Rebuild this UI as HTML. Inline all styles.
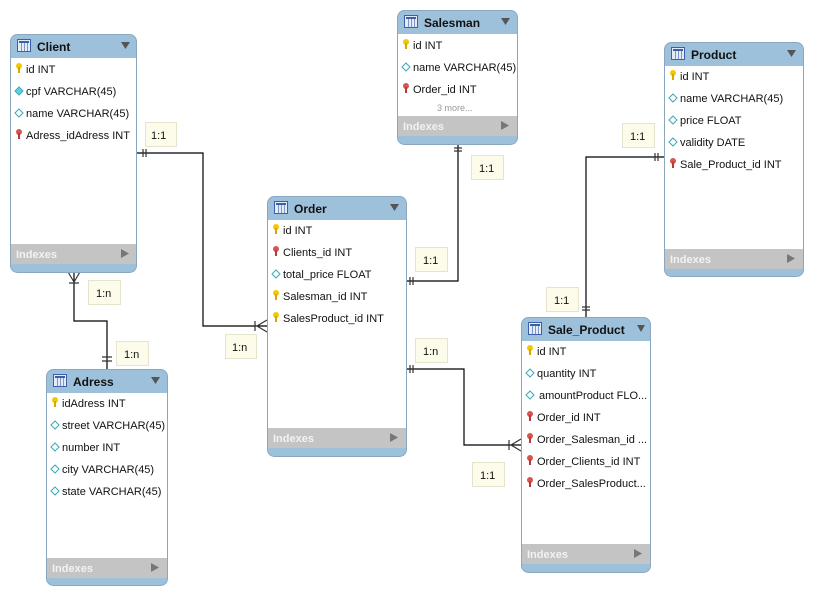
<!DOCTYPE html>
<html><head><meta charset="utf-8"><style>
html,body{margin:0;padding:0;background:#fff;width:813px;height:597px;overflow:hidden}
svg text{font-family:"Liberation Sans","DejaVu Sans",sans-serif}
.t{font-size:12px;font-weight:bold;fill:#111}
.r{font-size:11px;fill:#111}
.ix{font-size:11px;font-weight:bold;fill:#f2f2f2}
.lb{font-size:11px;fill:#111}
</style></head><body>
<svg width="813" height="597" viewBox="0 0 813 597" xmlns="http://www.w3.org/2000/svg">
<defs>
<g id="ico"><rect x="0.5" y="0.5" width="13" height="12" fill="#e4ecf8" stroke="#3b5fa8"/><rect x="2" y="2" width="10" height="2" fill="#3b5fa8"/><line x1="4.5" y1="4" x2="4.5" y2="12" stroke="#7d95c8"/><line x1="7.5" y1="4" x2="7.5" y2="12" stroke="#7d95c8"/><line x1="10.5" y1="4" x2="10.5" y2="12" stroke="#7d95c8"/></g>
<g id="pk"><circle cx="3" cy="3" r="3" fill="#f2c800"/><rect x="2" y="4" width="2" height="6" fill="#d8a800"/></g>
<g id="fk"><circle cx="3" cy="3" r="3" fill="#d9534f"/><rect x="2" y="4" width="2" height="6" fill="#b83a36"/></g>
<g id="df"><path d="M4 0 L8 4 L4 8 L0 4Z" fill="#5ed3de" stroke="#3aa9b5"/></g>
<g id="de"><path d="M4 0 L8 4 L4 8 L0 4Z" fill="#fff" stroke="#3aa9b5"/></g>
</defs>

<!-- connectors -->
<g stroke="#000" stroke-width="1.2" fill="none">
<polyline points="137,153 203,153 203,326 267,326"/>
<polyline points="74,272 74,321 107,321 107,369"/>
<polyline points="458,144 458,281 406,281"/>
<polyline points="664,157 586,157 586,317"/>
<polyline points="406,369 464,369 464,445 521,445"/>
</g>
<g stroke="#333" stroke-width="1.2" fill="none">
<path d="M143,149v8M146,149v8"/>
<path d="M255,321v10M267,320L257,326L267,332"/>
<path d="M69,283h10M68,272L74,282L80,272"/>
<path d="M102,357h10M102,361h10"/>
<path d="M454,148h8M454,151h8"/>
<path d="M410,277v8M413,277v8"/>
<path d="M655,153v8M658,153v8"/>
<path d="M582,307h8M582,310h8"/>
<path d="M410,365v8M413,365v8"/>
<path d="M509,440v10M521,439L511,445L521,451"/>
</g>

<!-- labels -->
<g fill="#fdfcea" stroke="#e6e4cc">
<rect x="145.5" y="122.5" width="31" height="24"/>
<rect x="225.5" y="334.5" width="31" height="24"/>
<rect x="88.5" y="280.5" width="32" height="24"/>
<rect x="116.5" y="341.5" width="32" height="24"/>
<rect x="471.5" y="155.5" width="32" height="24"/>
<rect x="415.5" y="247.5" width="32" height="24"/>
<rect x="622.5" y="123.5" width="32" height="24"/>
<rect x="546.5" y="287.5" width="32" height="24"/>
<rect x="415.5" y="338.5" width="32" height="24"/>
<rect x="472.5" y="462.5" width="32" height="24"/>
</g>
<g class="lb">
<text x="151" y="139">1:1</text><text x="232" y="351">1:n</text>
<text x="96" y="297">1:n</text><text x="124" y="358">1:n</text>
<text x="479" y="172">1:1</text><text x="423" y="264">1:1</text>
<text x="630" y="140">1:1</text><text x="554" y="304">1:1</text>
<text x="423" y="355">1:n</text><text x="480" y="479">1:1</text>
</g>

<!-- Client -->
<g>
<rect x="10.5" y="34.5" width="126" height="238" rx="7" fill="#9ec1db" stroke="#8aa7bf"/>
<rect x="11" y="58" width="125" height="186" fill="#fff"/>
<rect x="11" y="244" width="125" height="20" fill="#c4c4c4"/>
<use href="#ico" x="17" y="39"/><text class="t" x="37" y="51">Client</text><path d="M121,42h9l-4.5,7z" fill="#555"/>
<use href="#pk" x="16" y="63"/><text class="r" x="26" y="73">id INT</text>
<use href="#df" x="15" y="87"/><text class="r" x="26" y="95">cpf VARCHAR(45)</text>
<use href="#de" x="15" y="109"/><text class="r" x="26" y="117">name VARCHAR(45)</text>
<use href="#fk" x="16" y="129"/><text class="r" x="26" y="139">Adress_idAdress INT</text>
<text class="ix" x="16" y="258">Indexes</text><path d="M121,249v9l8,-4.5z" fill="#777"/>
</g>

<!-- Salesman -->
<g>
<rect x="397.5" y="10.5" width="120" height="134" rx="7" fill="#9ec1db" stroke="#8aa7bf"/>
<rect x="398" y="34" width="119" height="82" fill="#fff"/>
<rect x="398" y="116" width="119" height="20" fill="#c4c4c4"/>
<use href="#ico" x="404" y="15"/><text class="t" x="424" y="27">Salesman</text><path d="M501,18h9l-4.5,7z" fill="#555"/>
<use href="#pk" x="403" y="39"/><text class="r" x="413" y="49">id INT</text>
<use href="#de" x="402" y="63"/><text class="r" x="413" y="71">name VARCHAR(45)</text>
<use href="#fk" x="403" y="83"/><text class="r" x="413" y="93">Order_id INT</text>
<text x="437" y="111" style="font-size:9px;fill:#999">3 more...</text>
<text class="ix" x="403" y="130">Indexes</text><path d="M501,121v9l8,-4.5z" fill="#777"/>
</g>

<!-- Product -->
<g>
<rect x="664.5" y="42.5" width="139" height="234" rx="7" fill="#9ec1db" stroke="#8aa7bf"/>
<rect x="665" y="66" width="138" height="183" fill="#fff"/>
<rect x="665" y="249" width="138" height="20" fill="#c4c4c4"/>
<use href="#ico" x="671" y="47"/><text class="t" x="691" y="59">Product</text><path d="M787,50h9l-4.5,7z" fill="#555"/>
<use href="#pk" x="670" y="70"/><text class="r" x="680" y="80">id INT</text>
<use href="#de" x="669" y="94"/><text class="r" x="680" y="102">name VARCHAR(45)</text>
<use href="#de" x="669" y="116"/><text class="r" x="680" y="124">price FLOAT</text>
<use href="#de" x="669" y="138"/><text class="r" x="680" y="146">validity DATE</text>
<use href="#fk" x="670" y="158"/><text class="r" x="680" y="168">Sale_Product_id INT</text>
<text class="ix" x="670" y="263">Indexes</text><path d="M787,254v9l8,-4.5z" fill="#777"/>
</g>

<!-- Order -->
<g>
<rect x="267.5" y="196.5" width="139" height="260" rx="7" fill="#9ec1db" stroke="#8aa7bf"/>
<rect x="268" y="220" width="138" height="208" fill="#fff"/>
<rect x="268" y="428" width="138" height="20" fill="#c4c4c4"/>
<use href="#ico" x="274" y="201"/><text class="t" x="294" y="213">Order</text><path d="M390,204h9l-4.5,7z" fill="#555"/>
<use href="#pk" x="273" y="224"/><text class="r" x="283" y="234">id INT</text>
<use href="#fk" x="273" y="246"/><text class="r" x="283" y="256">Clients_id INT</text>
<use href="#de" x="272" y="270"/><text class="r" x="283" y="278">total_price FLOAT</text>
<use href="#pk" x="273" y="290"/><text class="r" x="283" y="300">Salesman_id INT</text>
<use href="#pk" x="273" y="312"/><text class="r" x="283" y="322">SalesProduct_id INT</text>
<text class="ix" x="273" y="442">Indexes</text><path d="M390,433v9l8,-4.5z" fill="#777"/>
</g>

<!-- Adress -->
<g>
<rect x="46.5" y="369.5" width="121" height="216" rx="7" fill="#9ec1db" stroke="#8aa7bf"/>
<rect x="47" y="393" width="120" height="165" fill="#fff"/>
<rect x="47" y="558" width="120" height="20" fill="#c4c4c4"/>
<use href="#ico" x="53" y="374"/><text class="t" x="73" y="386">Adress</text><path d="M151,377h9l-4.5,7z" fill="#555"/>
<use href="#pk" x="52" y="397"/><text class="r" x="62" y="407">idAdress INT</text>
<use href="#de" x="51" y="421"/><text class="r" x="62" y="429">street VARCHAR(45)</text>
<use href="#de" x="51" y="443"/><text class="r" x="62" y="451">number INT</text>
<use href="#de" x="51" y="465"/><text class="r" x="62" y="473">city VARCHAR(45)</text>
<use href="#de" x="51" y="487"/><text class="r" x="62" y="495">state VARCHAR(45)</text>
<text class="ix" x="52" y="572">Indexes</text><path d="M151,563v9l8,-4.5z" fill="#777"/>
</g>

<!-- Sale_Product -->
<g>
<rect x="521.5" y="317.5" width="129" height="255" rx="7" fill="#9ec1db" stroke="#8aa7bf"/>
<rect x="522" y="341" width="128" height="203" fill="#fff"/>
<rect x="522" y="544" width="128" height="20" fill="#c4c4c4"/>
<use href="#ico" x="528" y="322"/><text class="t" x="548" y="334">Sale_Product</text><path d="M637,325h8l-4,7z" fill="#555"/>
<use href="#pk" x="527" y="345"/><text class="r" x="537" y="355">id INT</text>
<use href="#de" x="526" y="369"/><text class="r" x="537" y="377">quantity INT</text>
<use href="#de" x="526" y="391"/><text class="r" x="539" y="399">amountProduct FLO...</text>
<use href="#fk" x="527" y="411"/><text class="r" x="537" y="421">Order_id INT</text>
<use href="#fk" x="527" y="433"/><text class="r" x="537" y="443">Order_Salesman_id ...</text>
<use href="#fk" x="527" y="455"/><text class="r" x="537" y="465">Order_Clients_id INT</text>
<use href="#fk" x="527" y="477"/><text class="r" x="537" y="487">Order_SalesProduct...</text>
<text class="ix" x="527" y="558">Indexes</text><path d="M634,549v9l8,-4.5z" fill="#777"/>
</g>
</svg>
</body></html>
